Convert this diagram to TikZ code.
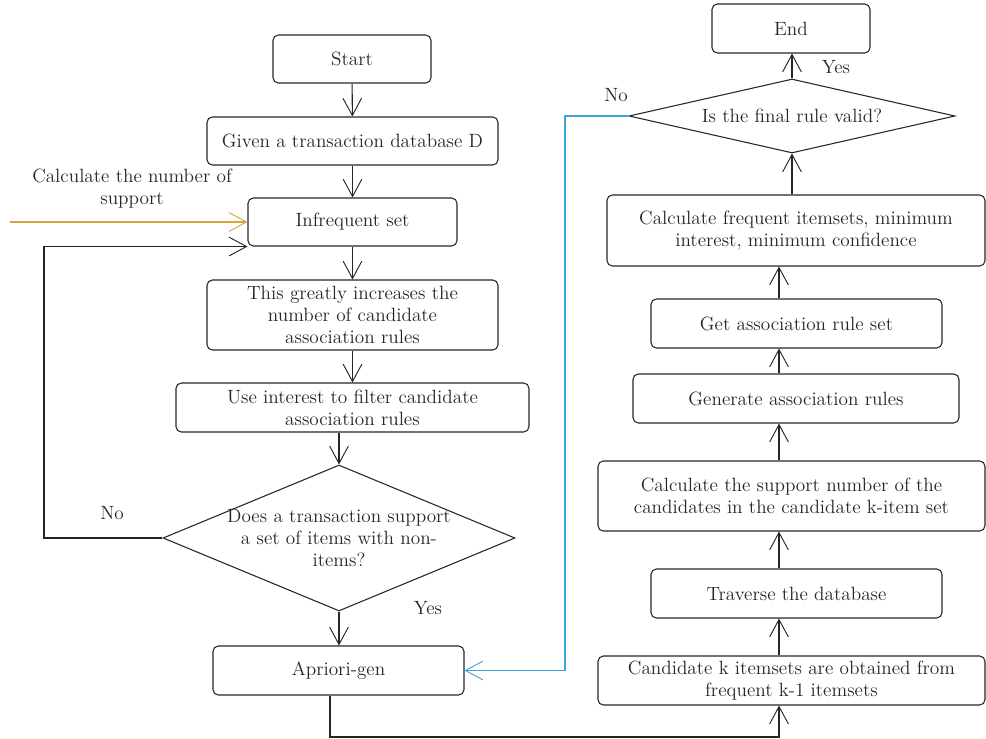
\documentclass[tikz,border=0pt]{standalone}
\usepackage{amsmath}
\usepackage[dvipsnames]{xcolor}
\usetikzlibrary{arrows.meta,shapes.geometric}
\definecolor{inkgray}{HTML}{262626}
\definecolor{supportorange}{HTML}{D9A53A}
\definecolor{loopblue}{HTML}{3DA5DD}

\begin{document}
\begin{tikzpicture}[x=0.75pt,y=-0.75pt,
    txt/.style={font=\fontsize{14.4}{16.5}\selectfont,text=inkgray,align=center},
    box/.style={txt,draw=inkgray,line width=0.8pt,rounded corners=4pt,inner sep=0pt},
    decision/.style={draw=inkgray,line width=0.8pt,diamond,inner sep=0pt},
    flow/.style={draw=inkgray,line width=0.8pt,-{Straight Barb[length=13pt,width=14pt,line width=0.7pt]}},
    lbl/.style={txt}]
    \useasboundingbox (0,0) rectangle (986,739);

    % left column
    \node[box,minimum width=118.5pt,minimum height=36pt] (start) at (352,59) {Start};
    \node[box,minimum width=218.25pt,minimum height=36pt] (given) at (352.5,141) {Given a transaction database D};
    \node[box,minimum width=156.75pt,minimum height=36pt] (infreq) at (352.5,222) {Infrequent set};
    \node[box,minimum width=218.25pt,minimum height=52.5pt] (greatly) at (352.5,315) {This greatly increases the\\number of candidate\\association rules};
    \node[box,minimum width=264.75pt,minimum height=36.75pt] (useint) at (352.5,407.5) {Use interest to filter candidate\\association rules};
    \node[decision,minimum width=264pt,minimum height=109.5pt,
          label={[txt]center:Does a transaction support\\a set of items with non-\\items?}] (supp) at (339,538) {};
    \node[box,minimum width=188.25pt,minimum height=36.75pt] (apriori) at (338.5,670.5) {Apriori-gen};

    % right column
    \node[box,minimum width=118.5pt,minimum height=36.75pt] (endb) at (791,28.5) {End};
    \node[decision,minimum width=244.5pt,minimum height=55.5pt,
          label={[txt]center:Is the final rule valid?}] (valid) at (792,116) {};
    \node[box,minimum width=283.5pt,minimum height=53.25pt] (calcfreq) at (796,230.5) {Calculate frequent itemsets, minimum\\interest, minimum confidence};
    \node[box,minimum width=218.25pt,minimum height=36.75pt] (getrule) at (796.5,323.5) {Get association rule set};
    \node[box,minimum width=244.5pt,minimum height=36.75pt] (genrule) at (796,398.5) {Generate association rules};
    \node[box,minimum width=290.25pt,minimum height=52.5pt] (calcsup) at (791.5,496) {Calculate the support number of the\\candidates in the candidate k-item set};
    \node[box,minimum width=218.25pt,minimum height=36.75pt] (traverse) at (796.5,593.5) {Traverse the database};
    \node[box,minimum width=290.25pt,minimum height=36.75pt] (cand) at (791.5,680.5) {Candidate k itemsets are obtained from\\frequent k-1 itemsets};

    % labels
    \node[lbl] (suplbl) at (132,189) {Calculate the number of\\support};
    \node[lbl] (nol) at (112,513) {No};
    \node[lbl] (yesl) at (428,608) {Yes};
    \node[lbl] (nor) at (616,95) {No};
    \node[lbl] (yesr) at (836,67) {Yes};

    \coordinate (supin) at (10,222);
    \coordinate (loopx) at (44,0);
    \coordinate (bluex) at (565,0);
    \coordinate (botl) at (330,737);
    \coordinate (rcol) at (779,737);

    \draw[flow] (start) -- (given);
    \draw[flow] (given) -- (infreq);
    \draw[flow] (infreq) -- (greatly);
    \draw[flow] (greatly) -- (useint);
    \draw[flow] (useint.south -| supp.north) -- (supp.north);
    \draw[flow] (supp.south) -- (supp.south |- apriori.north);
    \draw[flow] (supp.west) -- (supp.west -| loopx) |- (infreq.south west);
    \draw[flow,draw=supportorange] (supin) -- (infreq.west);
    \draw[flow,draw=loopblue] (valid.west) -- (valid.west -| bluex) |- (apriori.east);
    \draw[flow] (apriori.south -| botl) -- (botl) -- (rcol) -- (cand.south -| rcol);

    \foreach \a/\b in {cand/traverse,traverse/calcsup,calcsup/genrule,genrule/getrule,getrule/calcfreq}
        \draw[flow] (\a.north -| rcol) -- (\b.south -| rcol);
    \draw[flow] (calcfreq.north -| valid.south) -- (valid.south);
    \draw[flow] (valid.north) -- (valid.north |- endb.south);

\end{tikzpicture}
\end{document}
